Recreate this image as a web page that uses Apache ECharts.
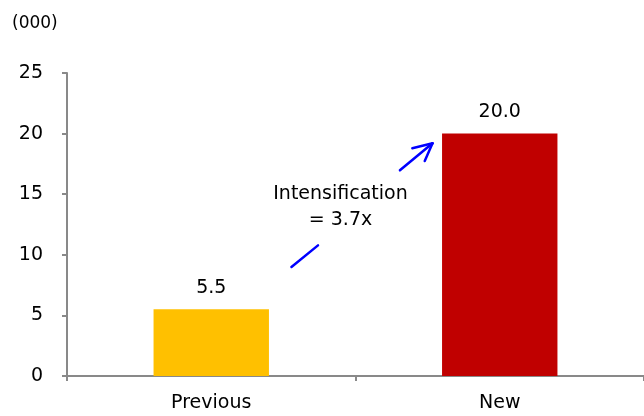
<!DOCTYPE html>
<html>
<head>
<meta charset="utf-8">
<script src="https://cdn.jsdelivr.net/npm/echarts@6/dist/echarts.min.js"></script>
<style>html,body{margin:0;padding:0;background:#fff;}#c{width:644px;height:416px;}</style>
</head>
<body>
<div id="c"></div>
<script>
const categories = ['Previous', 'New'];
const values = [5.5, 20.0];
const barColors = ['#FFC000', '#C00000'];
const yTicks = [0, 5, 10, 15, 20, 25];
const unitLabel = '(000)';
const annotationText = 'Intensification\n= 3.7x';
// arrow annotation in data units (x as fractional category position, y as value)
const arrowTail = [[0.278, 9.0], [0.370, 10.78]];
const arrowHead = [[0.654, 16.97], [0.767, 19.2]];
const arrowWing1 = [[0.767, 19.2], [0.697, 18.79]];
const arrowWing2 = [[0.767, 19.2], [0.740, 17.74]];
const annotationPos = [0.448, 13.94];

const FONT = 'DejaVu Sans';
const TXT = '#000';
const chart = echarts.init(document.getElementById('c'), null, {renderer: 'canvas'});
chart.setOption({
  animation: false,
  backgroundColor: '#fff',
  textStyle: {fontFamily: FONT},
  grid: {left: 67, right: -5, top: 73, bottom: 40, containLabel: false},
  title: {text: unitLabel, left: 7, top: 10, textStyle: {fontFamily: FONT, fontSize: 17, fontWeight: 'normal', color: TXT}},
  xAxis: [{
    type: 'category',
    data: categories,
    axisLine: {onZero: false, lineStyle: {color: '#898989', width: 2}},
    axisTick: {show: true, length: 5, lineStyle: {color: '#898989', width: 2}},
    axisLabel: {fontFamily: FONT, fontSize: 19, color: TXT, margin: 18},
    splitLine: {show: false}
  }, {
    type: 'value', min: -0.5, max: 1.5, show: false
  }],
  yAxis: {
    type: 'value', min: yTicks[0], max: yTicks[yTicks.length - 1], interval: yTicks[1] - yTicks[0],
    axisLine: {show: true, onZero: false, lineStyle: {color: '#898989', width: 2}},
    axisTick: {show: true, length: 5, lineStyle: {color: '#898989', width: 2}},
    axisLabel: {fontFamily: FONT, fontSize: 19, color: TXT, margin: 24},
    splitLine: {show: false}
  },
  series: [{
    type: 'bar',
    data: values.map((v, i) => ({value: v, itemStyle: {color: barColors[i]}})),
    barWidth: '40%',
    label: {show: true, position: 'top', distance: 12, fontFamily: FONT, fontSize: 19, color: TXT,
      formatter: p => p.value.toFixed(1)}
  }, {
    type: 'lines',
    coordinateSystem: 'cartesian2d',
    xAxisIndex: 1,
    symbol: 'none',
    lineStyle: {color: '#0000FF', width: 2.5, opacity: 1, cap: 'round'},
    data: [{coords: arrowTail}, {coords: arrowHead}, {coords: arrowWing1}, {coords: arrowWing2}],
    silent: true
  }, {
    type: 'scatter',
    xAxisIndex: 1,
    symbolSize: 0,
    itemStyle: {opacity: 1},
    data: [annotationPos],
    label: {show: true, position: 'inside', formatter: annotationText, fontFamily: FONT, fontSize: 19,
      lineHeight: 26, color: TXT, opacity: 1, align: 'center', verticalAlign: 'middle'},
    silent: true
  }]
});
</script>
</body>
</html>
